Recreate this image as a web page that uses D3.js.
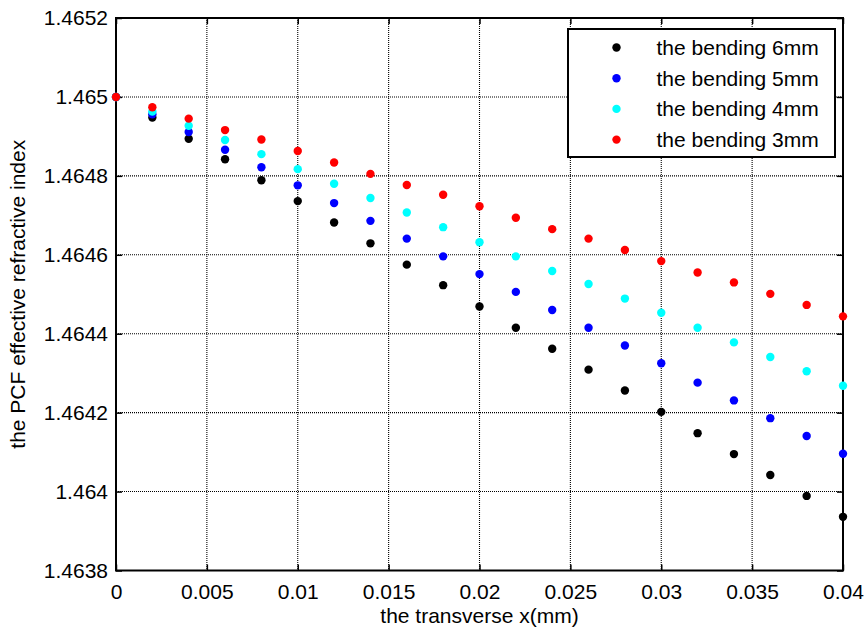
<!DOCTYPE html>
<html>
<head>
<meta charset="utf-8">
<script src="https://cdn.jsdelivr.net/npm/d3@7"></script>
<style>
body { margin: 0; background: #fff; }
text { font-family: "Liberation Sans", Arial, sans-serif; fill: #000; }
</style>
</head>
<body>
<div id="chart"></div>
<script>
// transverse position (mm)
var xVals = [0, 0.002, 0.004, 0.006, 0.008, 0.010, 0.012, 0.014, 0.016, 0.018, 0.020,
	0.022, 0.024, 0.026, 0.028, 0.030, 0.032, 0.034, 0.036, 0.038, 0.040];

// effective index, one array per bending radius
var bend6 = [1.465, 1.464948, 1.464894, 1.464842, 1.464789, 1.464736, 1.464682, 1.464629, 1.464575, 1.464523, 1.464469,
	1.464415, 1.464362, 1.464309, 1.464256, 1.464202, 1.464148, 1.464095, 1.464042, 1.463989, 1.463936];
var bend5 = [1.465, 1.464956, 1.464911, 1.464866, 1.464822, 1.464776, 1.464731, 1.464686, 1.464641, 1.464596, 1.464551,
	1.464506, 1.464460, 1.464415, 1.464370, 1.464325, 1.464276, 1.464231, 1.464186, 1.464141, 1.464096];
var bend4 = [1.465, 1.464963, 1.464927, 1.464891, 1.464855, 1.464817, 1.464780, 1.464744, 1.464707, 1.464670, 1.464632,
	1.464596, 1.464559, 1.464526, 1.464489, 1.464453, 1.464415, 1.464378, 1.464341, 1.464305, 1.464268];
var bend3 = [1.465, 1.464974, 1.464945, 1.464916, 1.464892, 1.464863, 1.464834, 1.464805, 1.464777, 1.464752, 1.464723,
	1.464694, 1.464665, 1.464641, 1.464612, 1.464584, 1.464555, 1.464530, 1.464501, 1.464473, 1.464444];

var seriesNames = ["the bending 6mm", "the bending 5mm", "the bending 4mm", "the bending 3mm"];
var seriesColors = ["#000000", "#0000ff", "#00ffff", "#ff0000"];

var xTicks = [0, 0.005, 0.01, 0.015, 0.02, 0.025, 0.03, 0.035, 0.04];
var xTickLabels = ["0", "0.005", "0.01", "0.015", "0.02", "0.025", "0.03", "0.035", "0.04"];
var yTicks = [1.4638, 1.464, 1.4642, 1.4644, 1.4646, 1.4648, 1.465, 1.4652];
var yTickLabels = ["1.4638", "1.464", "1.4642", "1.4644", "1.4646", "1.4648", "1.465", "1.4652"];

var W = 866, H = 628;
var margin = {top: 18, right: 23, bottom: 57.5, left: 116},
	width = W - margin.left - margin.right,
	height = H - margin.top - margin.bottom;

var x = d3.scaleLinear().domain([0, 0.04]).range([0, width]);
var y = d3.scaleLinear().domain([1.4638, 1.4652]).range([height, 0]);

var svg = d3.select("#chart").append("svg")
	.attr("width", W)
	.attr("height", H)
  .append("g")
	.attr("transform", "translate(" + margin.left + "," + margin.top + ")");

//grid
svg.append("g")
	.attr("class", "grid")
	.selectAll("line")
	.data(xTicks)
	.enter().append("line")
		.attr("x1", function(d){return x(d);})
		.attr("x2", function(d){return x(d);})
		.attr("y1", 0)
		.attr("y2", height)
		.attr("stroke", "#000")
		.attr("stroke-width", 1.1)
		.attr("stroke-dasharray", "1,1");
svg.append("g")
	.attr("class", "grid")
	.selectAll("line")
	.data(yTicks)
	.enter().append("line")
		.attr("x1", 0)
		.attr("x2", width)
		.attr("y1", function(d){return y(d);})
		.attr("y2", function(d){return y(d);})
		.attr("stroke", "#000")
		.attr("stroke-width", 1.1)
		.attr("stroke-dasharray", "1,1");

//x axis (bottom) and mirrored top
var xAxis = d3.axisBottom(x)
	.tickValues(xTicks)
	.tickFormat(function(d, i){return xTickLabels[i];})
	.tickSizeInner(-6)
	.tickSizeOuter(0)
	.tickPadding(14);
var gx = svg.append("g")
	.attr("transform", "translate(0," + height + ")")
	.call(xAxis);
gx.select(".domain").remove();
gx.selectAll("text").style("font-size", "21px");

svg.append("g")
	.call(d3.axisTop(x).tickValues(xTicks).tickFormat("").tickSizeInner(-6).tickSizeOuter(0))
	.select(".domain").remove();

//y axis (left) and mirrored right
var yAxis = d3.axisLeft(y)
	.tickValues(yTicks)
	.tickFormat(function(d, i){return yTickLabels[i];})
	.tickSizeInner(-6)
	.tickSizeOuter(0)
	.tickPadding(8);
var gy = svg.append("g")
	.call(yAxis);
gy.select(".domain").remove();
gy.selectAll("text").style("font-size", "21px");

svg.append("g")
	.attr("transform", "translate(" + width + ",0)")
	.call(d3.axisRight(y).tickValues(yTicks).tickFormat("").tickSizeInner(-6).tickSizeOuter(0))
	.select(".domain").remove();

svg.selectAll(".tick line").attr("stroke", "#000").attr("stroke-width", 1.5);

//frame
svg.append("rect")
	.attr("x", 0)
	.attr("y", 0)
	.attr("width", width)
	.attr("height", height)
	.attr("fill", "none")
	.attr("stroke", "#000")
	.attr("stroke-width", 2);

//points
var allSeries = [bend6, bend5, bend4, bend3];
allSeries.forEach(function(vals, s){
	svg.append("g")
		.selectAll("circle")
		.data(vals)
		.enter().append("circle")
			.attr("cx", function(d, i){return x(xVals[i]);})
			.attr("cy", function(d){return y(d);})
			.attr("r", 4.2)
			.attr("fill", seriesColors[s]);
});

//axis labels
svg.append("text")
	.attr("x", width / 2)
	.attr("y", height + 52)
	.attr("text-anchor", "middle")
	.style("font-size", "21px")
	.text("the transverse x(mm)");
svg.append("text")
	.attr("transform", "rotate(-90)")
	.attr("x", -height / 2)
	.attr("y", -91)
	.attr("text-anchor", "middle")
	.style("font-size", "21px")
	.text("the PCF effective refractive index");

//legend
var legend = svg.append("g")
	.attr("transform", "translate(" + (568 - margin.left) + "," + (29 - margin.top) + ")");
legend.append("rect")
	.attr("width", 267)
	.attr("height", 128)
	.attr("fill", "#fff")
	.attr("stroke", "#000")
	.attr("stroke-width", 2);
seriesNames.forEach(function(name, i){
	legend.append("circle")
		.attr("cx", 48.5)
		.attr("cy", 18.5 + i * 30.7)
		.attr("r", 4.2)
		.attr("fill", seriesColors[i]);
	legend.append("text")
		.attr("x", 88.5)
		.attr("y", 18.5 + i * 30.7)
		.attr("dy", "0.35em")
		.style("font-size", "21px")
		.text(name);
});
</script>
</body>
</html>
